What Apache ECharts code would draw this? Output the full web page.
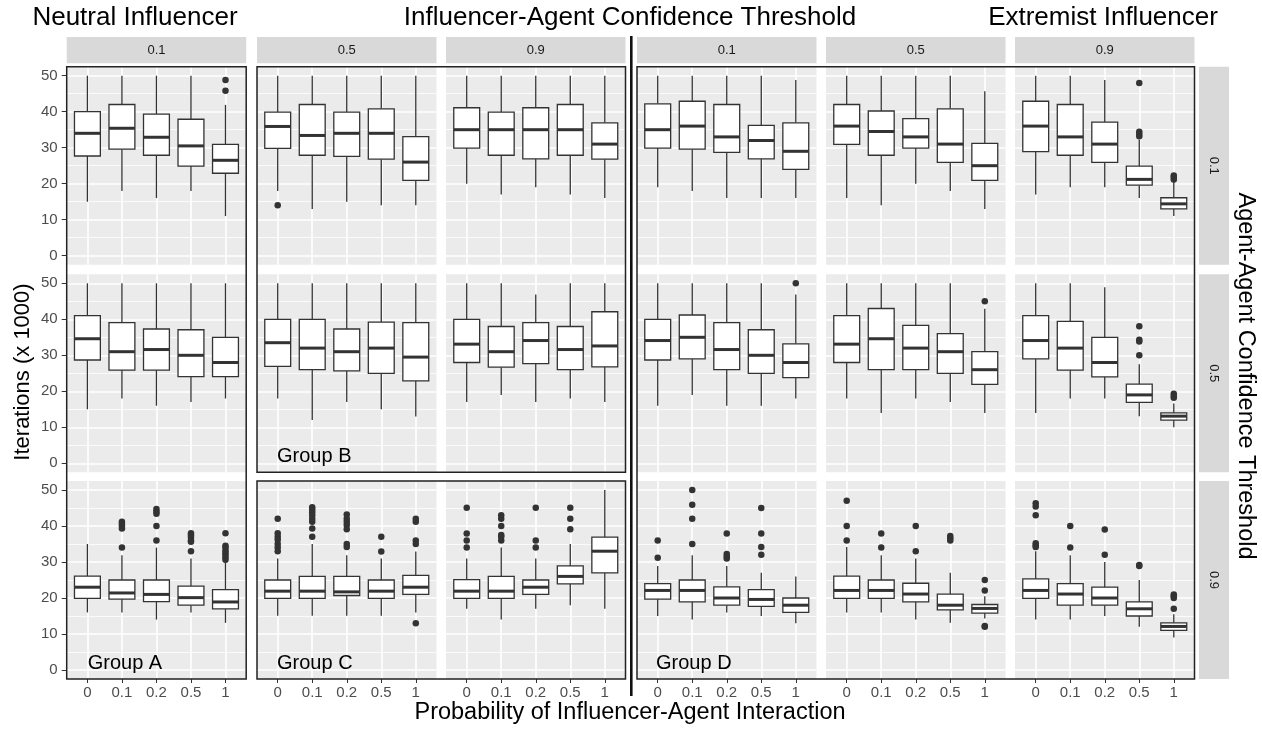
<!DOCTYPE html>
<html><head><meta charset="utf-8">
<script src="https://cdn.jsdelivr.net/npm/echarts@6/dist/echarts.min.js"></script>
<style>html,body{margin:0;padding:0;background:#fff}#c{width:1262px;height:730px}</style>
</head><body><div id="c"></div><script>
// ---------- labels ----------
const probLabels = ['0', '0.1', '0.2', '0.5', '1'];
const iaThresholdLabels = ['0.1', '0.5', '0.9', '0.1', '0.5', '0.9'];
const aaThresholdLabels = ['0.1', '0.5', '0.9'];
const yTicks = [0, 10, 20, 30, 40, 50];
const yMinorTicks = [5, 15, 25, 35, 45];

// ---------- box stats: [min, Q1, median, Q3, max] per probability ----------
// Agent-Agent threshold 0.1
const box_n01_a01 = [[15,27.7,34,40,50],[18,29.6,35.4,42,50],[16,27.9,32.9,39.3,50],[18,24.9,30.5,37.9,50],[11,22.9,26.5,30.9,41.9]];
const out_n01_a01 = [[4,48.8],[4,45.8]];
const box_n05_a01 = [[18,29.8,35.9,39.9,50],[13,27.9,33.4,42,50],[15,27.6,34,39.9,50],[14,26.8,34,40.8,50],[14,20.9,26,33.1,50]];
const out_n05_a01 = [[0,14]];
const box_n09_a01 = [[20,29.9,35,41.1,50],[17,27.9,35,39.9,50],[19,26.9,35,41.1,50],[17,27.9,35,42,50],[16,26.8,31,36.9,50]];
const out_n09_a01 = [];
const box_e01_a01 = [[19,29.9,35,42.2,50],[18,29.6,36,42.9,50],[16,28.7,33,42,50],[16,26.9,32,36.2,50],[16,24,29,36.9,48.8]];
const out_e01_a01 = [];
const box_e05_a01 = [[16,30.9,36,42,50],[14,27.9,34.5,40.2,50],[20,29.9,33,38.1,50],[18,25.9,31,40.8,50],[13,20.9,25,31.2,45.7]];
const out_e05_a01 = [];
const box_e09_a01 = [[17,28.9,36,42.9,50],[19,27.9,33,42,50],[19,25.9,31,37.1,48.8],[16,19.6,21.2,24.9,32.2],[11,13,14.4,16.1,20.6]];
const out_e09_a01 = [[3,48],[3,34.4],[3,33.8],[3,33.2],[4,22.3],[4,21.8],[4,21.2]];
// Agent-Agent threshold 0.5
const box_n01_a05 = [[15,28.7,34.6,41,50],[18,25.9,31,39.1,50],[16,25.9,31.6,37.3,50],[17,24.1,30,37.1,50],[18,24.1,28,35,50]];
const out_n01_a05 = [];
const box_n05_a05 = [[18,26.9,33.5,40,50],[12,26,32,40,50],[17,25.7,31,37.3,50],[15,25,32,39.2,50],[13,22.9,29.5,39.1,50]];
const out_n05_a05 = [];
const box_n09_a05 = [[17,28,33.1,40,50],[19,26.7,31,38,50],[17,27.7,34.1,39.1,46.9],[18,26,31.6,38,50],[17,26.8,32.6,42.1,50]];
const out_n09_a05 = [];
const box_e01_a05 = [[16,28.7,34.1,40,50],[19,29,35,41.2,50],[16,26,31.6,39.1,50],[16,25,30,37.1,50],[18,23.8,28,33.2,46.9]];
const out_e01_a05 = [[4,50]];
const box_e05_a05 = [[18,28,33.1,41,50],[14,26,34.6,43,50],[18,26,32,38.3,50],[17,25,31,36,50],[14,21.9,26,31,42.9]];
const out_e05_a05 = [[4,45]];
const box_e09_a05 = [[14,29,34.1,41,50],[18,25.9,32,39.4,50],[18,24,28,35,48.9],[13.1,16.9,19,22,27.5],[10,12,13.1,14,16.6]];
const out_e09_a05 = [[3,38.1],[3,34.3],[3,33.8],[3,30],[4,19.3],[4,18.7],[4,18.2]];
// Agent-Agent threshold 0.9
const box_n01_a09 = [[16,19.9,23,26.1,35],[16,19.7,21.4,25,31.9],[14,19,21,25,34],[16,18,20.1,23.3,31],[13.1,17,18.9,22.3,30]];
const out_n01_a09 = [[1,41.2],[1,40.6],[1,40],[1,39.3],[1,34],[2,44.7],[2,44],[2,43.4],[2,40],[2,36],[3,38],[3,37.4],[3,36.8],[3,36],[3,35.6],[3,33],[4,38],[4,34.5],[4,34],[4,33.2],[4,32.6],[4,32],[4,31.3],[4,30.6]];
const box_n05_a09 = [[15.1,19.9,21.9,25,31],[15.1,19.9,21.9,26,35],[15.1,20.7,21.7,26,31.9],[15.1,19.9,21.9,25,31],[16,21,23,26.3,32.9]];
const out_n05_a09 = [[0,42],[0,38],[0,37],[0,36.2],[0,35],[0,34],[0,33],[1,45.2],[1,44.5],[1,43.8],[1,43],[1,42],[1,41.2],[1,39.3],[1,37],[2,43.2],[2,42],[2,41.2],[2,40.3],[2,39.1],[2,35],[2,34.2],[3,37],[3,32.9],[4,42],[4,41.2],[4,36],[4,35],[4,13]];
const box_n09_a09 = [[17,19.9,21.9,25.1,31],[14,19.9,21.9,26,34],[17,21,23,25,31],[18,23.9,26,28.9,35],[17,27,33,36.9,50]];
const out_n09_a09 = [[0,45.1],[0,37.9],[0,36],[0,34],[1,43],[1,42],[1,40],[1,37.5],[1,37],[1,36],[2,45.1],[2,36],[2,34],[3,45.1],[3,42],[3,39.1]];
const box_e01_a09 = [[15,19.7,22.1,24,28.9],[14,18.9,22.1,25,31.9],[16,18,20,23.1,28.9],[15,17.7,19.6,22.3,27],[13,16,18,20,26]];
const out_e01_a09 = [[0,36],[0,31.2],[1,50],[1,45.9],[1,42],[1,35],[2,37.9],[2,32.2],[2,31.5],[2,31],[3,45],[3,37.9],[3,34.2],[3,32]];
const box_e05_a09 = [[16,19.9,22.1,26.1,34.2],[16,19.9,22.1,25,31.9],[14,18.9,21.1,24.1,31],[13.1,16.7,18,21.1,27],[14.3,15.8,17.1,18.2,20.5]];
const out_e05_a09 = [[0,47],[0,40],[0,36],[1,37.9],[1,34],[2,40],[2,33],[3,37.2],[3,36.6],[3,36],[4,25],[4,22.1],[4,12.2],[4,12]];
const box_e09_a09 = [[14,19.9,22.1,25.3,33],[14,18,21.1,24,31.9],[15,18,20,23,30],[12,15,17,18.9,25],[9,11,12.1,13.1,15.5]];
const out_e09_a09 = [[0,46.3],[0,45.4],[0,43],[0,35.2],[0,34.6],[0,34.2],[1,40],[1,34],[2,39],[2,32],[3,29.2],[3,28.9],[4,21],[4,20.5],[4,20],[4,17]];

const rowBoxes = [
  [box_n01_a01, box_n05_a01, box_n09_a01, box_e01_a01, box_e05_a01, box_e09_a01],
  [box_n01_a05, box_n05_a05, box_n09_a05, box_e01_a05, box_e05_a05, box_e09_a05],
  [box_n01_a09, box_n05_a09, box_n09_a09, box_e01_a09, box_e05_a09, box_e09_a09]
];
const rowOuts = [
  [out_n01_a01, out_n05_a01, out_n09_a01, out_e01_a01, out_e05_a01, out_e09_a01],
  [out_n01_a05, out_n05_a05, out_n09_a05, out_e01_a05, out_e05_a05, out_e09_a05],
  [out_n01_a09, out_n05_a09, out_n09_a09, out_e01_a09, out_e05_a09, out_e09_a09]
];

// ---------- layout ----------
const COL_LEFT = [66.7, 257, 446, 637, 826, 1015];
const PANEL_W = 179.5;
const ROW_TOP = [66.7, 274.3, 481];
const PANEL_H = 198;
const FONT = "'Liberation Sans', Arial, Helvetica, sans-serif";
const INK = '#333333';
const BOX_W = 0.75;

const grids = [], xAxes = [], yAxes = [], series = [];

function renderBox(params, api) {
  const x = api.value(0);
  const pLo = api.coord([x, api.value(1)]);
  const pQ1 = api.coord([x, api.value(2)]);
  const pMed = api.coord([x, api.value(3)]);
  const pQ3 = api.coord([x, api.value(4)]);
  const pHi = api.coord([x, api.value(5)]);
  const w = api.size([BOX_W, 0])[0];
  return {
    type: 'group',
    children: [
      { type: 'line', shape: { x1: pLo[0], y1: pLo[1], x2: pQ1[0], y2: pQ1[1] }, style: { stroke: INK, lineWidth: 1.3 } },
      { type: 'line', shape: { x1: pQ3[0], y1: pQ3[1], x2: pHi[0], y2: pHi[1] }, style: { stroke: INK, lineWidth: 1.3 } },
      { type: 'rect', shape: { x: pQ3[0] - w / 2, y: pQ3[1], width: w, height: pQ1[1] - pQ3[1] }, style: { fill: '#ffffff', stroke: INK, lineWidth: 1.3 } },
      { type: 'line', shape: { x1: pMed[0] - w / 2, y1: pMed[1], x2: pMed[0] + w / 2, y2: pMed[1] }, style: { stroke: INK, lineWidth: 3 } }
    ]
  };
}

for (let r = 0; r < 3; r++) {
  for (let c = 0; c < 6; c++) {
    const g = grids.length;
    grids.push({
      left: COL_LEFT[c], top: ROW_TOP[r], width: PANEL_W, height: PANEL_H,
      show: true, backgroundColor: '#EBEBEB', borderWidth: 0,
      containLabel: false, outerBoundsMode: 'none'
    });
    xAxes.push({
      type: 'value', gridIndex: g, min: -0.6, max: 4.6, position: 'bottom',
      axisLine: { show: false, onZero: false },
      axisTick: { show: r === 2, length: 4, customValues: [0, 1, 2, 3, 4], lineStyle: { color: INK, width: 1 } },
      axisLabel: {
        show: r === 2, customValues: [0, 1, 2, 3, 4], margin: 6,
        formatter: v => probLabels[Math.round(v)],
        color: '#4D4D4D', fontSize: 15, fontFamily: FONT
      },
      splitLine: { show: true, lineStyle: { color: '#FFFFFF', width: 1.6 } }
    });
    yAxes.push({
      type: 'value', gridIndex: g, min: -2.5, max: 52.5, position: 'left',
      axisLine: { show: false, onZero: false },
      axisTick: { show: c === 0, length: 5, customValues: yTicks, lineStyle: { color: INK, width: 1 } },
      axisLabel: { show: c === 0, customValues: yTicks, margin: 9, color: '#4D4D4D', fontSize: 15, fontFamily: FONT },
      splitLine: { show: true, lineStyle: { color: '#FFFFFF', width: 1.6 } }
    });
    yAxes.push({
      type: 'value', gridIndex: g, min: -2.5, max: 52.5, position: 'right',
      axisLine: { show: false, onZero: false },
      axisTick: { show: false, customValues: yMinorTicks },
      axisLabel: { show: false, customValues: yMinorTicks },
      splitLine: { show: true, lineStyle: { color: '#FFFFFF', width: 0.8 } }
    });
    series.push({
      type: 'custom', xAxisIndex: g, yAxisIndex: 2 * g, clip: false, z: 3,
      data: rowBoxes[r][c].map((b, i) => [i, b[0], b[1], b[2], b[3], b[4]]),
      renderItem: renderBox
    });
    series.push({
      type: 'scatter', xAxisIndex: g, yAxisIndex: 2 * g, z: 4,
      symbol: 'circle', symbolSize: 6.5,
      itemStyle: { color: INK, opacity: 1 },
      data: rowOuts[r][c]
    });
  }
}

// ---------- strips, group boxes, titles ----------
const graphics = [];
const STRIP_TOP = 37, STRIP_BOTTOM = 63.3;
for (let c = 0; c < 6; c++) {
  graphics.push({ type: 'rect', shape: { x: COL_LEFT[c], y: STRIP_TOP, width: PANEL_W, height: STRIP_BOTTOM - STRIP_TOP }, style: { fill: '#D9D9D9' } });
  graphics.push({ type: 'text', x: COL_LEFT[c] + PANEL_W / 2, y: (STRIP_TOP + STRIP_BOTTOM) / 2,
    style: { text: iaThresholdLabels[c], fill: '#1A1A1A', fontSize: 13, fontFamily: FONT, align: 'center', verticalAlign: 'middle', textAlign: 'center', textVerticalAlign: 'middle' } });
}
const RSTRIP_X = 1199, RSTRIP_W = 30;
for (let r = 0; r < 3; r++) {
  graphics.push({ type: 'rect', shape: { x: RSTRIP_X, y: ROW_TOP[r], width: RSTRIP_W, height: PANEL_H }, style: { fill: '#D9D9D9' } });
  graphics.push({ type: 'text', x: RSTRIP_X + RSTRIP_W / 2, y: ROW_TOP[r] + PANEL_H / 2, rotation: -Math.PI / 2,
    style: { text: aaThresholdLabels[r], fill: '#1A1A1A', fontSize: 13, fontFamily: FONT, align: 'center', verticalAlign: 'middle', textAlign: 'center', textVerticalAlign: 'middle' } });
}
function groupRect(c0, c1, r0, r1) {
  return { type: 'rect', z: 100,
    shape: { x: COL_LEFT[c0], y: ROW_TOP[r0], width: COL_LEFT[c1] + PANEL_W - COL_LEFT[c0], height: ROW_TOP[r1] + PANEL_H - ROW_TOP[r0] },
    style: { fill: 'none', stroke: '#222222', lineWidth: 1.5 } };
}
graphics.push(groupRect(0, 0, 0, 2));
graphics.push(groupRect(1, 2, 0, 1));
graphics.push(groupRect(1, 2, 2, 2));
graphics.push(groupRect(3, 5, 0, 2));
graphics.push({ type: 'line', z: 100, shape: { x1: 631.3, y1: 36, x2: 631.3, y2: 696 }, style: { stroke: '#111111', lineWidth: 2.6 } });

function label(text, x, y, size, rot, color) {
  return { type: 'text', x, y, rotation: rot || 0, z: 101,
    style: { text, fill: color || '#000000', fontSize: size, fontFamily: FONT, align: 'center', verticalAlign: 'middle', textAlign: 'center', textVerticalAlign: 'middle' } };
}
function leftLabel(text, x, y) {
  return { type: 'text', x, y, z: 101,
    style: { text, fill: '#000000', fontSize: 20, fontFamily: FONT, align: 'left', verticalAlign: 'middle', textAlign: 'left', textVerticalAlign: 'middle' } };
}
graphics.push(label('Neutral Influencer', 135, 18, 26));
graphics.push(label('Influencer-Agent Confidence Threshold', 630, 18, 26));
graphics.push(label('Extremist Influencer', 1103, 18, 26));
graphics.push(label('Iterations (x 1000)', 23, 372, 22, Math.PI / 2));
graphics.push(label('Agent-Agent Confidence Threshold', 1245, 376, 23.5, -Math.PI / 2));
graphics.push(label('Probability of Influencer-Agent Interaction', 630, 713, 23.5));
graphics.push(leftLabel('Group A', COL_LEFT[0] + 21, ROW_TOP[2] + PANEL_H - 16));
graphics.push(leftLabel('Group B', COL_LEFT[1] + 20, ROW_TOP[1] + PANEL_H - 16));
graphics.push(leftLabel('Group C', COL_LEFT[1] + 20, ROW_TOP[2] + PANEL_H - 16));
graphics.push(leftLabel('Group D', COL_LEFT[3] + 19, ROW_TOP[2] + PANEL_H - 16));

const chart = echarts.init(document.getElementById('c'), null, { renderer: 'canvas', width: 1262, height: 730 });
chart.setOption({
  animation: false,
  backgroundColor: '#FFFFFF',
  textStyle: { fontFamily: FONT },
  grid: grids, xAxis: xAxes, yAxis: yAxes, series: series,
  graphic: { elements: graphics }
});
</script></body></html>
